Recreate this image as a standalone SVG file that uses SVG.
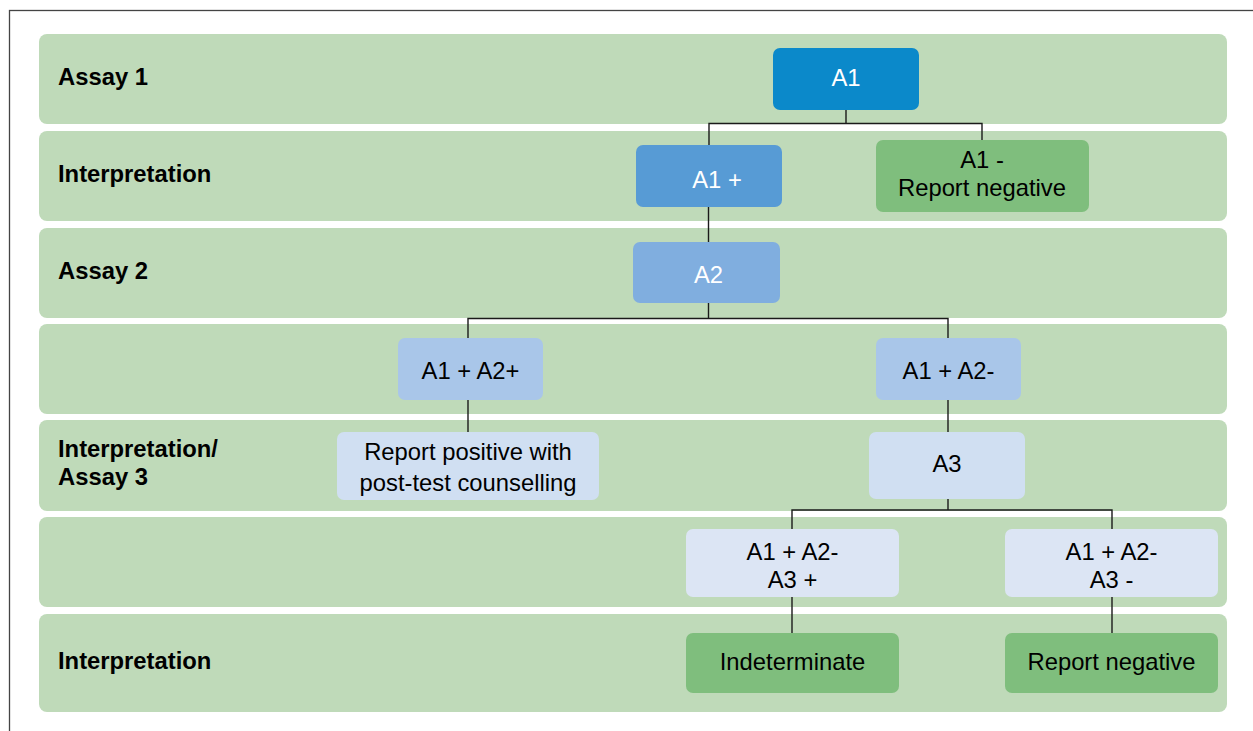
<svg xmlns="http://www.w3.org/2000/svg" width="1253" height="731" viewBox="0 0 1253 731">
  <style>
    .band { fill: #bfdab9; }
    .lbl { font-family: "Liberation Sans", Arial, sans-serif; font-size: 23.8px; font-weight: bold; fill: #000; }
    .txt { font-family: "Liberation Sans", Arial, sans-serif; font-size: 23.8px; fill: #000; text-anchor: middle; }
    .wt { fill: #fff; }
    .link { fill: none; stroke: #1a1a1a; stroke-width: 1.4; }
    .n-a1 { fill: #0b89ca; }
    .n-a1p { fill: #579bd5; }
    .n-a2 { fill: #80aedf; }
    .n-a12 { fill: #a9c6e9; }
    .n-a3 { fill: #d0dff2; }
    .n-r6 { fill: #dce5f4; }
    .n-ok { fill: #7fbe7d; }
  </style>

  <rect width="1253" height="731" fill="#fff"/>
  <!-- outer frame, open on the right and bottom -->
  <rect x="9.5" y="10.5" width="1260" height="740" fill="none" stroke="#444" stroke-width="1.3"/>

  <!-- row bands -->
  <g id="bands">
    <rect class="band" x="39" y="34" width="1188" height="90" rx="8"/>
    <rect class="band" x="39" y="131" width="1188" height="90" rx="8"/>
    <rect class="band" x="39" y="228" width="1188" height="90" rx="8"/>
    <rect class="band" x="39" y="324" width="1188" height="90" rx="8"/>
    <rect class="band" x="39" y="420" width="1188" height="91" rx="8"/>
    <rect class="band" x="39" y="517" width="1188" height="90" rx="8"/>
    <rect class="band" x="39" y="614" width="1188" height="98" rx="8"/>
  </g>

  <!-- row labels -->
  <g id="labels">
    <text class="lbl" x="58" y="84.5">Assay 1</text>
    <text class="lbl" x="58" y="181.5">Interpretation</text>
    <text class="lbl" x="58" y="278.5">Assay 2</text>
    <text class="lbl" x="58" y="456.5">Interpretation/</text>
    <text class="lbl" x="58" y="485">Assay 3</text>
    <text class="lbl" x="58" y="668.5">Interpretation</text>
  </g>

  <!-- connectors -->
  <g id="connectors">
    <path class="link" d="M846 110 V123.5 M709 145 V123.5 H982 V140"/>
    <path class="link" d="M708.5 207 V242"/>
    <path class="link" d="M708.5 303 V318.5 M468 338 V318.5 H948 V338"/>
    <path class="link" d="M468 400 V432"/>
    <path class="link" d="M948 400 V432"/>
    <path class="link" d="M948 499 V510 M792 529 V510 H1112 V529"/>
    <path class="link" d="M792 597 V633"/>
    <path class="link" d="M1112 597 V633"/>
  </g>

  <g id="node-a1">
    <rect class="n-a1" x="773" y="48" width="146" height="62" rx="7"/>
    <text class="txt wt" x="846" y="86">A1</text>
  </g>
  <g id="node-a1-pos">
    <rect class="n-a1p" x="636" y="145" width="146" height="62" rx="7"/>
    <text class="txt wt" x="717" y="187.5">A1 +</text>
  </g>
  <g id="node-a1-neg">
    <rect class="n-ok" x="876" y="140" width="213" height="72" rx="7"/>
    <text class="txt" x="982" y="167.5">A1 -</text>
    <text class="txt" x="982" y="196">Report negative</text>
  </g>
  <g id="node-a2">
    <rect class="n-a2" x="633" y="242" width="147" height="61" rx="7"/>
    <text class="txt wt" x="708.5" y="283">A2</text>
  </g>
  <g id="node-a1-a2-pos">
    <rect class="n-a12" x="398" y="338" width="145" height="62" rx="7"/>
    <text class="txt" x="470.5" y="378.5">A1 + A2+</text>
  </g>
  <g id="node-a1-a2-neg">
    <rect class="n-a12" x="876" y="338" width="145" height="62" rx="7"/>
    <text class="txt" x="948.5" y="378.5">A1 + A2-</text>
  </g>
  <g id="node-report-positive">
    <rect class="n-a3" x="337" y="432" width="262" height="68" rx="7"/>
    <text class="txt" x="468" y="459.5">Report positive with</text>
    <text class="txt" x="468" y="491">post-test counselling</text>
  </g>
  <g id="node-a3">
    <rect class="n-a3" x="869" y="432" width="156" height="67" rx="7"/>
    <text class="txt" x="947" y="472">A3</text>
  </g>
  <g id="node-a3-pos">
    <rect class="n-r6" x="686" y="529" width="213" height="68" rx="7"/>
    <text class="txt" x="792.5" y="559.5">A1 + A2-</text>
    <text class="txt" x="792.5" y="588">A3 +</text>
  </g>
  <g id="node-a3-neg">
    <rect class="n-r6" x="1005" y="529" width="213" height="68" rx="7"/>
    <text class="txt" x="1111.5" y="559.5">A1 + A2-</text>
    <text class="txt" x="1111.5" y="588">A3 -</text>
  </g>
  <g id="node-indeterminate">
    <rect class="n-ok" x="686" y="633" width="213" height="60" rx="7"/>
    <text class="txt" x="792.5" y="670">Indeterminate</text>
  </g>
  <g id="node-report-negative">
    <rect class="n-ok" x="1005" y="633" width="213" height="60" rx="7"/>
    <text class="txt" x="1111.5" y="670">Report negative</text>
  </g>
</svg>
